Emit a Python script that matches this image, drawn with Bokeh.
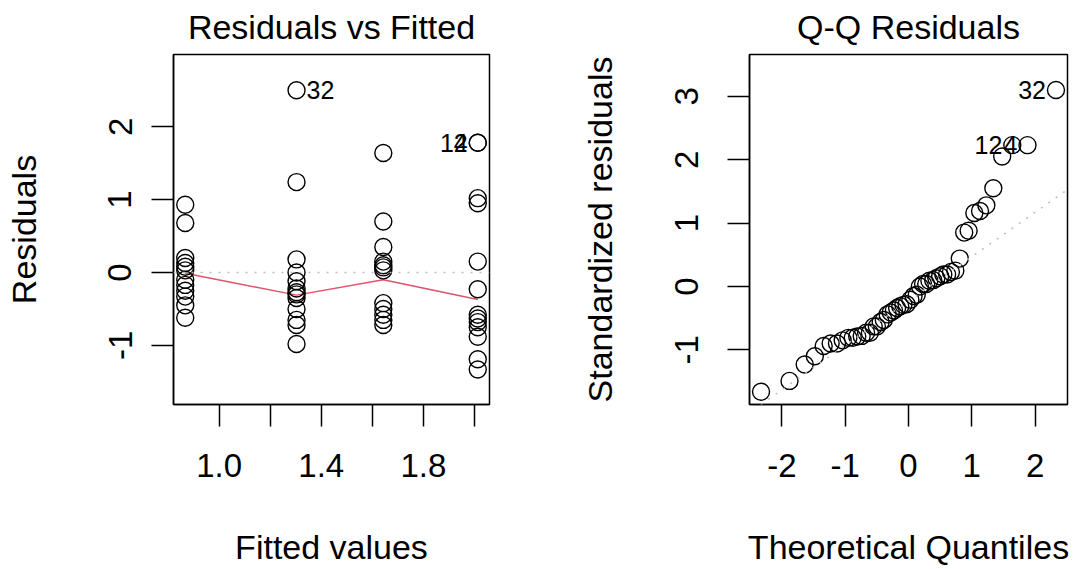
from bokeh.plotting import figure
from bokeh.layouts import row
from bokeh.models import Range1d, FixedTicker, Span, Slope, ColumnDataSource
from bokeh.embed import file_html
from bokeh.resources import INLINE
from bokeh.core.properties import value

# ---------------- data ----------------
FITTED_LEVELS = [0.867, 1.303, 1.643, 2.013]

RESID_G1 = [0.93, 0.68, 0.20, 0.13, 0.08, 0.03, -0.10, -0.17, -0.25, -0.33, -0.45, -0.62]
RESID_G2 = [2.50, 1.24, 0.18, 0.00, -0.12, -0.22, -0.27, -0.30, -0.35, -0.50, -0.65, -0.72, -0.98]
RESID_G3 = [1.64, 0.70, 0.35, 0.15, 0.10, 0.07, 0.03, -0.42, -0.50, -0.58, -0.65, -0.72]
RESID_G4 = [1.78, 1.78, 1.02, 0.95, 0.15, -0.23, -0.58, -0.63, -0.68, -0.75, -0.88, -1.19, -1.33]

SMOOTH_RESID = [-0.01, -0.31, -0.10, -0.37]

QQ_THEORETICAL = [-2.33, -1.88, -1.64, -1.48, -1.34, -1.23, -1.13, -1.04, -0.95, -0.88,
                  -0.81, -0.74, -0.67, -0.61, -0.55, -0.50, -0.44, -0.39, -0.33, -0.28,
                  -0.23, -0.18, -0.13, -0.08, -0.03, 0.03, 0.08, 0.13, 0.18, 0.23,
                  0.28, 0.33, 0.39, 0.44, 0.50, 0.55, 0.61, 0.67, 0.74, 0.81,
                  0.88, 0.95, 1.04, 1.13, 1.23, 1.34, 1.48, 1.64, 1.88, 2.33]
QQ_STD_RESID = [-1.66, -1.49, -1.23, -1.10, -0.94, -0.90, -0.90, -0.85, -0.81, -0.81,
                -0.79, -0.78, -0.73, -0.73, -0.63, -0.63, -0.56, -0.53, -0.44, -0.41,
                -0.38, -0.34, -0.31, -0.29, -0.28, -0.21, -0.15, -0.13, 0.00, 0.04,
                0.04, 0.09, 0.10, 0.13, 0.16, 0.19, 0.19, 0.23, 0.25, 0.44,
                0.85, 0.88, 1.16, 1.19, 1.28, 1.55, 2.05, 2.23, 2.23, 3.10]
QQ_LINE_INTERCEPT = -0.23
QQ_LINE_SLOPE = 0.70

RVF_LABELS = ["32", "12", "4"]
QQ_LABELS = ["32", "12", "4"]

RVF_X_TICKS = [1.0, 1.2, 1.4, 1.6, 1.8, 2.0]
RVF_X_TICK_LABELS = ["1.0", "", "1.4", "", "1.8", ""]
RVF_Y_TICKS = [-1, 0, 1, 2]
RVF_Y_TICK_LABELS = ["-1", "0", "1", "2"]
QQ_X_TICKS = [-2, -1, 0, 1, 2]
QQ_X_TICK_LABELS = ["-2", "-1", "0", "1", "2"]
QQ_Y_TICKS = [-1, 0, 1, 2, 3]
QQ_Y_TICK_LABELS = ["-1", "0", "1", "2", "3"]

# ---------------- styling ----------------
FONT = "Liberation Sans"
FS = "33px"
FS_LAB = "34px"
FS_ID = "25px"
GRAY = "#BEBEBE"
RED = "#DF536B"
H = 569
TOP = 54
BOTTOM = 165


def style(p, xticks, xlabels, yticks, ylabels, xlab, ylab, ylabel_standoff):
    p.xgrid.visible = False
    p.ygrid.visible = False
    p.outline_line_color = "black"
    p.outline_line_width = 1.5
    p.outline_line_alpha = 1.0
    p.background_fill_color = "white"
    p.border_fill_color = "white"
    p.title.text_font = FONT
    p.title.text_font_size = FS_LAB
    p.title.text_font_style = "normal"
    p.title.text_color = "black"
    p.title.align = "center"
    p.title.vertical_align = "top"
    p.title.standoff = 14
    p.xaxis.ticker = FixedTicker(ticks=xticks)
    p.xaxis.major_label_overrides = {t: l for t, l in zip(xticks, xlabels)}
    p.yaxis.ticker = FixedTicker(ticks=yticks)
    p.yaxis.major_label_overrides = {t: l for t, l in zip(yticks, ylabels)}
    p.yaxis.major_label_orientation = "vertical"
    p.xaxis.axis_label = xlab
    p.yaxis.axis_label = ylab
    p.xaxis.major_label_standoff = 27
    p.yaxis.major_label_standoff = ylabel_standoff
    p.xaxis.axis_label_standoff = 48
    p.yaxis.axis_label_standoff = 83 - ylabel_standoff
    for ax in p.xaxis + p.yaxis:
        ax.axis_label_text_font = FONT
        ax.axis_label_text_font_size = FS_LAB
        ax.axis_label_text_font_style = "normal"
        ax.axis_label_text_color = "black"
        ax.major_tick_out = 22
        ax.major_tick_in = 0
        ax.minor_tick_out = 0
        ax.minor_tick_in = 0
        ax.major_tick_line_width = 1.5
        ax.major_tick_line_color = "black"
        ax.axis_line_color = "black"
        ax.axis_line_width = 1.5
        ax.major_label_text_font = FONT
        ax.major_label_text_font_size = FS
        ax.major_label_text_color = "black"


# ---------------- panel 1: Residuals vs Fitted ----------------
W1_LEFT, W1_FRAME, W1_RIGHT = 173, 316, 79
p1 = figure(width=W1_LEFT + W1_FRAME + W1_RIGHT, height=H, output_backend="svg",
            toolbar_location=None, title="Residuals vs Fitted",
            x_range=Range1d(0.821, 2.059), y_range=Range1d(-1.81, 2.99),
            min_border_left=W1_LEFT, min_border_right=W1_RIGHT,
            min_border_top=TOP, min_border_bottom=BOTTOM)
style(p1, RVF_X_TICKS, RVF_X_TICK_LABELS, RVF_Y_TICKS, RVF_Y_TICK_LABELS,
      "Fitted values", "Residuals", 20)

groups = [RESID_G1, RESID_G2, RESID_G3, RESID_G4]
rx, ry = [], []
for lvl, g in zip(FITTED_LEVELS, groups):
    rx += [lvl] * len(g)
    ry += g

p1.add_layout(Span(location=0, dimension="width", line_color=GRAY, line_width=1.5, line_dash="2 7"))
p1.line(FITTED_LEVELS, SMOOTH_RESID, line_color=RED, line_width=1.5)
p1.scatter(rx, ry, marker="circle", size=17, fill_color=None, line_color="black", line_width=1.4)

lab_right = ColumnDataSource(dict(x=[FITTED_LEVELS[1]], y=[RESID_G2[0]], t=[RVF_LABELS[0]]))
lab_left = ColumnDataSource(dict(x=[FITTED_LEVELS[3], FITTED_LEVELS[3]], y=[RESID_G4[0], RESID_G4[1]],
                                 t=[RVF_LABELS[1], RVF_LABELS[2]]))
p1.text(x="x", y="y", text="t", source=lab_right, x_offset=10, text_align="left",
        text_baseline="middle", text_font=value(FONT), text_font_size=FS_ID, text_color="black")
p1.text(x="x", y="y", text="t", source=lab_left, x_offset=-10, text_align="right",
        text_baseline="middle", text_font=value(FONT), text_font_size=FS_ID, text_color="black")

# ---------------- panel 2: Q-Q Residuals ----------------
W2_LEFT, W2_FRAME, W2_RIGHT = 181, 318, 9
p2 = figure(width=W2_LEFT + W2_FRAME + W2_RIGHT, height=H, output_backend="svg",
            toolbar_location=None, title="Q-Q Residuals",
            x_range=Range1d(-2.512, 2.512), y_range=Range1d(-1.862, 3.66),
            min_border_left=W2_LEFT, min_border_right=W2_RIGHT,
            min_border_top=TOP, min_border_bottom=BOTTOM)
style(p2, QQ_X_TICKS, QQ_X_TICK_LABELS, QQ_Y_TICKS, QQ_Y_TICK_LABELS,
      "Theoretical Quantiles", "Standardized residuals", 29)

p2.add_layout(Slope(gradient=QQ_LINE_SLOPE, y_intercept=QQ_LINE_INTERCEPT,
                    line_color=GRAY, line_width=1.5, line_dash="2 7"))
p2.scatter(QQ_THEORETICAL, QQ_STD_RESID, marker="circle", size=17, fill_color=None,
           line_color="black", line_width=1.4)
qq_lab = ColumnDataSource(dict(x=[QQ_THEORETICAL[49], QQ_THEORETICAL[47], QQ_THEORETICAL[48]],
                               y=[QQ_STD_RESID[49], QQ_STD_RESID[47], QQ_STD_RESID[48]],
                               t=QQ_LABELS))
p2.text(x="x", y="y", text="t", source=qq_lab, x_offset=-10, text_align="right",
        text_baseline="middle", text_font=value(FONT), text_font_size=FS_ID, text_color="black")

layout = row(p1, p2)
open("out.html", "w").write(file_html(layout, INLINE))
